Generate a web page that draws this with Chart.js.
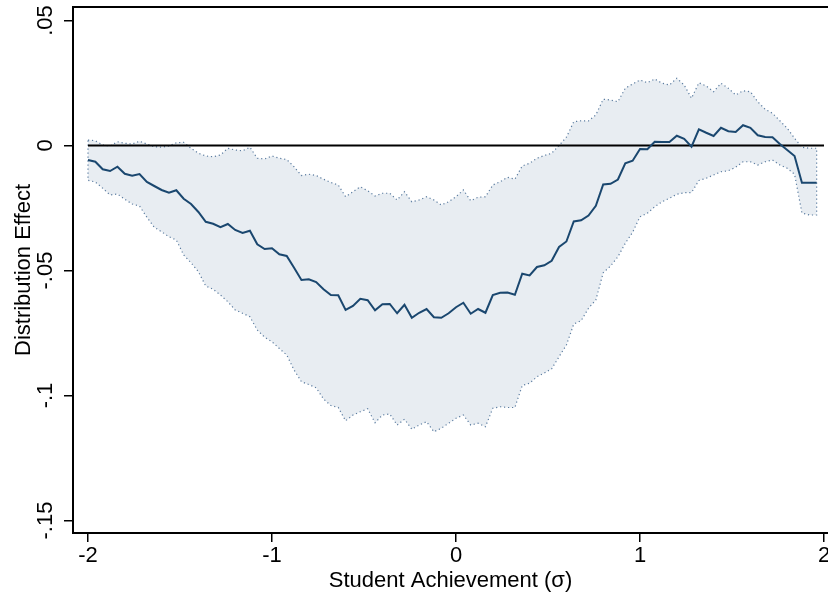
<!DOCTYPE html>
<html>
<head>
<meta charset="utf-8">
<script src="https://cdn.jsdelivr.net/npm/chart.js@4/dist/chart.umd.min.js"></script>
<style>
  html, body { margin: 0; padding: 0; background: #ffffff; }
  #wrap { width: 828px; height: 599px; }
</style>
</head>
<body>
<div id="wrap"><canvas id="chart" width="828" height="599"></canvas></div>
<script>
// Achievement grid (standard deviations)
const achievement = [
  -2.00, -1.96, -1.92, -1.88, -1.84, -1.80, -1.76, -1.72, -1.68, -1.64,
  -1.60, -1.56, -1.52, -1.48, -1.44, -1.40, -1.36, -1.32, -1.28, -1.24,
  -1.20, -1.16, -1.12, -1.08, -1.04, -1.00, -0.96, -0.92, -0.88, -0.84,
  -0.80, -0.76, -0.72, -0.68, -0.64, -0.60, -0.56, -0.52, -0.48, -0.44,
  -0.40, -0.36, -0.32, -0.28, -0.24, -0.20, -0.16, -0.12, -0.08, -0.04,
   0.00,  0.04,  0.08,  0.12,  0.16,  0.20,  0.24,  0.28,  0.32,  0.36,
   0.40,  0.44,  0.48,  0.52,  0.56,  0.60,  0.64,  0.68,  0.72,  0.76,
   0.80,  0.84,  0.88,  0.92,  0.96,  1.00,  1.04,  1.08,  1.12,  1.16,
   1.20,  1.24,  1.28,  1.32,  1.36,  1.40,  1.44,  1.48,  1.52,  1.56,
   1.60,  1.64,  1.68,  1.72,  1.76,  1.80,  1.84,  1.88,  1.92,  1.96
];

// Point estimate of the distribution effect
const effect = [
  -0.0058, -0.0065, -0.0095, -0.0102, -0.0085, -0.0113, -0.0121, -0.0114, -0.0146, -0.0162,
  -0.0178, -0.0189, -0.0179, -0.0213, -0.0234, -0.0266, -0.0305, -0.0313, -0.0327, -0.0314,
  -0.0338, -0.0350, -0.0341, -0.0395, -0.0414, -0.0411, -0.0435, -0.0442, -0.0489, -0.0538,
  -0.0535, -0.0546, -0.0575, -0.0598, -0.0599, -0.0658, -0.0642, -0.0613, -0.0619, -0.0659,
  -0.0635, -0.0634, -0.0671, -0.0637, -0.0689, -0.0669, -0.0654, -0.0687, -0.0689, -0.0671,
  -0.0647, -0.0629, -0.0673, -0.0654, -0.0669, -0.0598, -0.0589, -0.0588, -0.0597, -0.0513,
  -0.0520, -0.0486, -0.0479, -0.0461, -0.0406, -0.0384, -0.0304, -0.0299, -0.0280, -0.0241,
  -0.0156, -0.0153, -0.0136, -0.0071, -0.0061, -0.0014, -0.0015,  0.0015,  0.0014,  0.0014,
   0.0039,  0.0027, -0.0005,  0.0065,  0.0051,  0.0038,  0.0071,  0.0057,  0.0054,  0.0081,
   0.0071,  0.0041,  0.0034,  0.0033,  0.0006, -0.0018, -0.0042, -0.0149, -0.0149, -0.0149
];

// Upper bound of the confidence band
const upperCI = [
   0.0022,  0.0019,  0.0002, -0.0002,  0.0015,  0.0009,  0.0006,  0.0017,  0.0006, -0.0005,
  -0.0007, -0.0002,  0.0011,  0.0013, -0.0011, -0.0031, -0.0042, -0.0045, -0.0038, -0.0011,
  -0.0018, -0.0021, -0.0007, -0.0051, -0.0054, -0.0042, -0.0051, -0.0056, -0.0085, -0.0120,
  -0.0115, -0.0120, -0.0135, -0.0148, -0.0158, -0.0205, -0.0185, -0.0165, -0.0181, -0.0202,
  -0.0191, -0.0191, -0.0218, -0.0185, -0.0225, -0.0218, -0.0205, -0.0218, -0.0238, -0.0225,
  -0.0205, -0.0178, -0.0221, -0.0207, -0.0205, -0.0158, -0.0145, -0.0127, -0.0135, -0.0082,
  -0.0071, -0.0051, -0.0040, -0.0031,  0.0000,  0.0033,  0.0095,  0.0099,  0.0098,  0.0122,
   0.0185,  0.0182,  0.0175,  0.0229,  0.0246,  0.0262,  0.0251,  0.0266,  0.0249,  0.0242,
   0.0269,  0.0242,  0.0189,  0.0251,  0.0238,  0.0215,  0.0249,  0.0229,  0.0202,  0.0219,
   0.0215,  0.0175,  0.0145,  0.0129,  0.0099,  0.0069,  0.0029, -0.0007, -0.0011, -0.0011
];

// Lower bound of the confidence band
const lowerCI = [
  -0.0139, -0.0146, -0.0171, -0.0198, -0.0194, -0.0215, -0.0234, -0.0242, -0.0287, -0.0327,
  -0.0345, -0.0365, -0.0378, -0.0438, -0.0469, -0.0505, -0.0562, -0.0575, -0.0598, -0.0625,
  -0.0658, -0.0671, -0.0685, -0.0738, -0.0767, -0.0785, -0.0812, -0.0838, -0.0898, -0.0945,
  -0.0956, -0.0969, -0.1014, -0.1040, -0.1048, -0.1101, -0.1078, -0.1065, -0.1053, -0.1109,
  -0.1078, -0.1074, -0.1118, -0.1095, -0.1135, -0.1118, -0.1105, -0.1145, -0.1131, -0.1111,
  -0.1091, -0.1078, -0.1118, -0.1111, -0.1125, -0.1051, -0.1045, -0.1048, -0.1048, -0.0960,
  -0.0951, -0.0925, -0.0910, -0.0893, -0.0845, -0.0798, -0.0714, -0.0701, -0.0651, -0.0618,
  -0.0509, -0.0482, -0.0445, -0.0391, -0.0347, -0.0285, -0.0271, -0.0245, -0.0225, -0.0211,
  -0.0195, -0.0189, -0.0188, -0.0140, -0.0131, -0.0118, -0.0105, -0.0101, -0.0087, -0.0065,
  -0.0065, -0.0078, -0.0065, -0.0058, -0.0078, -0.0091, -0.0115, -0.0270, -0.0278, -0.0278
];

// Reference line at zero effect
const zeroLineX = [-2, 2];
const zeroLineY = [0, 0];

// Axis ticks and labels
const xTicks = [-2, -1, 0, 1, 2];
const xTickLabels = ['-2', '-1', '0', '1', '2'];
const yTicks = [0.05, 0, -0.05, -0.1, -0.15];
const yTickLabels = ['.05', '0', '-.05', '-.1', '-.15'];

const FONT = '"Liberation Sans", Arial, Helvetica, sans-serif';

const pts = (xs, ys) => xs.map((x, i) => ({ x: x, y: ys[i] }));

// Closed outline of the band: along the upper bound, back along the lower bound
const bandOutline = pts(achievement, upperCI)
  .concat(pts(achievement, lowerCI).reverse())
  .concat([{ x: achievement[0], y: upperCI[0] }]);

// Frame line along the top of the plot region; rotated y tick labels
const framePlugin = {
  id: 'frame',
  afterDraw(chart) {
    const { ctx, chartArea, scales } = chart;
    ctx.save();
    ctx.strokeStyle = '#000000';
    ctx.lineWidth = 2;
    ctx.beginPath();
    ctx.moveTo(chartArea.left - 1, chartArea.top);
    ctx.lineTo(chartArea.right, chartArea.top);
    ctx.stroke();

    ctx.fillStyle = '#000000';
    ctx.font = '22px ' + FONT;
    ctx.textAlign = 'center';
    ctx.textBaseline = 'middle';
    yTicks.forEach((v, i) => {
      const y = scales.y.getPixelForValue(v);
      ctx.save();
      ctx.translate(46, y);
      ctx.rotate(-Math.PI / 2);
      ctx.fillText(yTickLabels[i], 0, 0);
      ctx.restore();
    });
    ctx.restore();
  }
};

new Chart(document.getElementById('chart'), {
  type: 'line',
  data: {
    datasets: [
      {
        label: 'Distribution effect',
        data: pts(achievement, effect),
        borderColor: '#1a476f',
        borderWidth: 2,
        pointRadius: 0,
        fill: false,
        tension: 0,
        order: 0
      },
      {
        label: 'Zero',
        data: pts(zeroLineX, zeroLineY),
        borderColor: '#000000',
        borderWidth: 2,
        pointRadius: 0,
        fill: false,
        order: 1
      },
      {
        label: 'Band outline',
        data: bandOutline,
        borderColor: '#5b7ca0',
        borderWidth: 1.2,
        borderDash: [1.2, 2.8],
        pointRadius: 0,
        fill: false,
        tension: 0,
        order: 2
      },
      {
        label: 'Upper bound',
        data: pts(achievement, upperCI),
        borderWidth: 0,
        borderColor: 'rgba(0,0,0,0)',
        pointRadius: 0,
        fill: false,
        order: 4
      },
      {
        label: 'Lower bound',
        data: pts(achievement, lowerCI),
        borderWidth: 0,
        borderColor: 'rgba(0,0,0,0)',
        backgroundColor: '#e8edf2',
        pointRadius: 0,
        fill: '-1',
        order: 3
      }
    ]
  },
  options: {
    responsive: false,
    devicePixelRatio: 1,
    animation: false,
    layout: { padding: { top: 7, right: 0, bottom: 0, left: 0 } },
    plugins: {
      legend: { display: false },
      tooltip: { enabled: false },
      filler: { propagate: false }
    },
    scales: {
      x: {
        type: 'linear',
        position: 'bottom',
        min: -2.0815,
        max: 2.0217,
        afterBuildTicks: (scale) => { scale.ticks = xTicks.map(v => ({ value: v })); },
        afterFit: (scale) => { scale.height = 66; scale.paddingLeft = 0; scale.paddingRight = 0; },
        grid: { display: true, drawOnChartArea: false, drawTicks: true, tickLength: 9, color: '#000000', lineWidth: 1.5 },
        border: { display: true, color: '#000000', width: 2 },
        ticks: {
          autoSkip: false,
          maxRotation: 0,
          padding: 1,
          color: '#000000',
          font: { family: FONT, size: 22 },
          callback: (value) => {
            const i = xTicks.indexOf(value);
            return i >= 0 ? xTickLabels[i] : '';
          }
        },
        title: {
          display: true,
          text: 'Student Achievement (σ)',
          color: '#000000',
          font: { family: FONT, size: 22 },
          padding: { top: 0, bottom: 5 }
        }
      },
      y: {
        type: 'linear',
        position: 'left',
        min: -0.155,
        max: 0.0554,
        afterBuildTicks: (scale) => { scale.ticks = yTicks.map(v => ({ value: v })); },
        afterFit: (scale) => { scale.width = 73; scale.paddingTop = 0; scale.paddingBottom = 0; },
        grid: { display: true, drawOnChartArea: false, drawTicks: true, tickLength: 9, color: '#000000', lineWidth: 1.5 },
        border: { display: true, color: '#000000', width: 2 },
        ticks: { display: false },
        title: {
          display: true,
          text: 'Distribution Effect',
          color: '#000000',
          font: { family: FONT, size: 22 },
          padding: { top: 11, bottom: 0 }
        }
      }
    }
  },
  plugins: [framePlugin]
});
</script>
</body>
</html>
